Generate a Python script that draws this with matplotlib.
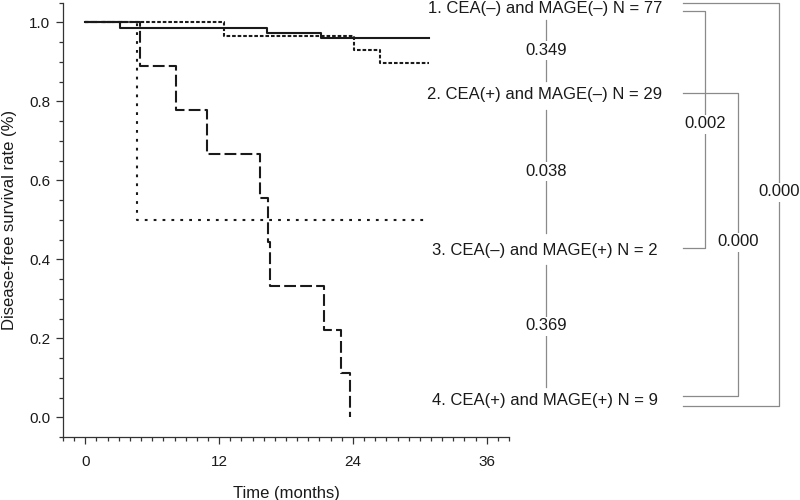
import matplotlib
matplotlib.use("Agg")
import matplotlib.pyplot as plt
import numpy as np

plt.rcParams['font.family'] = ['Liberation Sans', 'DejaVu Sans']
plt.rcParams['lines.scale_dashes'] = False

# ---- data ----
g1_time = [0, 3.1, 16.3, 21.1, 30.8]
g1_surv = [1.0, 0.987, 0.974, 0.961, 0.961]

g2_time = [0, 12.4, 24.1, 26.4, 30.8]
g2_surv = [1.0, 0.966, 0.931, 0.897, 0.897]

g3_time = [0, 4.6, 30.7]
g3_surv = [1.0, 0.5, 0.5]

g4_time = [0, 4.9, 8.1, 10.9, 15.7, 16.4, 16.6, 21.4, 22.9, 23.7]
g4_surv = [1.0, 0.889, 0.778, 0.667, 0.556, 0.444, 0.333, 0.222, 0.111, 0.0]

group_labels = ["1. CEA(\u2013) and MAGE(\u2013) N = 77",
                "2. CEA(+) and MAGE(\u2013) N = 29",
                "3. CEA(\u2013) and MAGE(+) N = 2",
                "4. CEA(+) and MAGE(+) N = 9"]
# adjacent comparisons (1-2, 2-3, 3-4)
p_adjacent = ["0.349", "0.038", "0.369"]
# bracket comparisons: (1-3), (2-4), (1-4)
p_brackets = ["0.002", "0.000", "0.000"]

x_major = [0, 12, 24, 36]
y_major = [0.0, 0.2, 0.4, 0.6, 0.8, 1.0]

W, H = 800, 500
fig = plt.figure(figsize=(W / 100, H / 100), dpi=100)
ax = fig.add_axes([63 / W, 1 - 437 / H, (509 - 63) / W, (437 - 2.7) / H])

ink = '#1a1a1a'
ax.step(g1_time, g1_surv, where='post', color=ink, lw=1.5, ls='-')
ax.step(g2_time, g2_surv, where='post', color=ink, lw=1.5, ls=(0, (2.6, 1.4)))
ax.step(g3_time, g3_surv, where='post', color=ink, lw=1.5, ls=(0, (2.0, 4.4)))
ax.step(g4_time, g4_surv, where='post', color=ink, lw=1.5, ls=(0, (8.5, 3.0)))

ax.set_xlim(-2, 38)
ax.set_ylim(-0.05, 1.05)
ax.set_xticks(x_major)
ax.set_xticks(np.arange(-2, 38.5, 1), minor=True)
ax.set_yticks(y_major)
ax.set_yticklabels([f"{v:.1f}" for v in y_major])
ax.set_yticks(np.arange(-0.05, 1.051, 0.05), minor=True)
for s in ['top', 'right']:
    ax.spines[s].set_visible(False)
for s in ['left', 'bottom']:
    ax.spines[s].set_color('#333333')
    ax.spines[s].set_linewidth(0.9)
ax.tick_params(axis='both', which='major', length=5, width=0.9, color='#333333',
               labelsize=11, labelcolor=ink)
ax.tick_params(axis='both', which='minor', length=3, width=0.9, color='#333333')
ax.tick_params(axis='x', which='major', pad=8)
ax.tick_params(axis='y', which='major', pad=4)
ax.set_xlabel("Time (months)", fontsize=12, color=ink, labelpad=12)
ax.set_ylabel("Disease-free survival rate (%)", fontsize=12, color=ink, labelpad=9)

# ---- right-hand annotation panel (pixel coordinates, origin top-left) ----
def fx(x):
    return x / W

def fy(y):
    return 1 - y / H

gray = '#8a8a8a'

def gline(xs, ys):
    fig.add_artist(plt.Line2D([fx(x) for x in xs], [fy(y) for y in ys],
                              color=gray, lw=0.9, transform=fig.transFigure))

def label(x, y, s):
    fig.text(fx(x), fy(y), s, ha='center', va='center', fontsize=12, color=ink,
             bbox=dict(facecolor='white', edgecolor='none', pad=1.5), zorder=5)

label_y = [8, 95, 250, 401]
label_x = 545
for yy, s in zip(label_y, group_labels):
    fig.text(fx(label_x), fy(yy), s, ha='center', va='center', fontsize=12, color=ink)

# adjacent vertical connectors
seg = [(20, 81), (110, 233), (265, 387)]
for (y0, y1), p in zip(seg, p_adjacent):
    gline([546, 546], [y0, y1])
    label(546, (y0 + y1) / 2, p)

# brackets
x_start = 683
br = [(705, 10.7, 248), (738, 93, 396), (779, 3, 406)]
for (bx, y0, y1), p in zip(br, p_brackets):
    gline([x_start, bx, bx, x_start], [y0, y0, y1, y1])
lbl_pos = [(705, 124), (738, 242), (779, 192)]
for (lx, ly), p in zip(lbl_pos, p_brackets):
    label(lx, ly, p)

fig.savefig("out.png", dpi=100)
